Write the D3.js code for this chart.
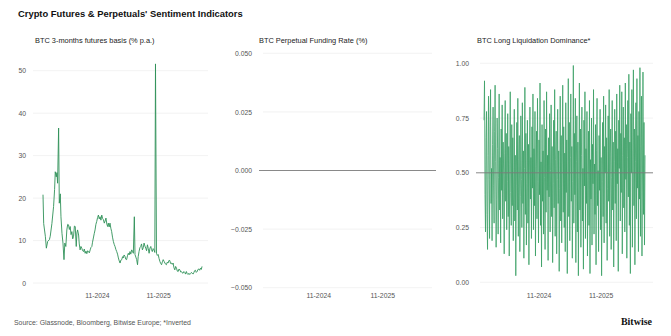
<!DOCTYPE html>
<html>
<head>
<meta charset="utf-8">
<script src="https://cdn.jsdelivr.net/npm/d3@7"></script>
<style>
  body { margin: 0; background: #fff; }
  svg { display: block; font-family: "Liberation Sans", Arial, sans-serif; }
  .tick text { fill: #555; }
</style>
</head>
<body>
<svg id="chart" width="671" height="336"></svg>
<script>
// date span shared by all three panels
var startDate = new Date(2023, 11, 16),
  endDate = new Date(2026, 6, 20);
var xTickDates = [new Date(2024, 10, 1), new Date(2025, 10, 1)];

// BTC 3-months futures basis, % p.a.
var basisDates = [
  "2023-12-16", "2023-12-20", "2023-12-30", "2024-01-05", "2024-01-13", "2024-01-23", "2024-01-28",
  "2024-02-07", "2024-02-17", "2024-02-23", "2024-02-27", "2024-03-04", "2024-03-08", "2024-03-12",
  "2024-03-18", "2024-03-22", "2024-03-28", "2024-04-01", "2024-04-07", "2024-04-13", "2024-04-19",
  "2024-04-24", "2024-04-30", "2024-05-06", "2024-05-11", "2024-05-16", "2024-05-21", "2024-05-26",
  "2024-05-31", "2024-06-05", "2024-06-10", "2024-06-15", "2024-06-20", "2024-06-25", "2024-07-01",
  "2024-07-05", "2024-07-09", "2024-07-15", "2024-07-19", "2024-07-24", "2024-07-29", "2024-08-03",
  "2024-08-08", "2024-08-13", "2024-08-18", "2024-08-23", "2024-08-28", "2024-09-02", "2024-09-07",
  "2024-09-12", "2024-09-17", "2024-09-22", "2024-09-27", "2024-10-02", "2024-10-06", "2024-10-11",
  "2024-10-16", "2024-10-21", "2024-10-26", "2024-10-31", "2024-11-05", "2024-11-10", "2024-11-15",
  "2024-11-20", "2024-11-25", "2024-11-30", "2024-12-05", "2024-12-10", "2024-12-15", "2024-12-20",
  "2024-12-25", "2024-12-30", "2025-01-04", "2025-01-08", "2025-01-13", "2025-01-18", "2025-01-23",
  "2025-01-28", "2025-02-02", "2025-02-07", "2025-02-12", "2025-02-17", "2025-02-22", "2025-02-27",
  "2025-03-04", "2025-03-09", "2025-03-14", "2025-03-19", "2025-03-24", "2025-03-29", "2025-04-03",
  "2025-04-07", "2025-04-12", "2025-04-17", "2025-04-22", "2025-04-27", "2025-05-02", "2025-05-07",
  "2025-05-12", "2025-05-17", "2025-05-22", "2025-05-27", "2025-06-01", "2025-06-06", "2025-06-12",
  "2025-06-16", "2025-06-21", "2025-06-26", "2025-07-01", "2025-07-05", "2025-07-10", "2025-07-15",
  "2025-07-20", "2025-07-25", "2025-07-30", "2025-08-04", "2025-08-09", "2025-08-14", "2025-08-19",
  "2025-08-24", "2025-08-29", "2025-09-03", "2025-09-08", "2025-09-13", "2025-09-18", "2025-09-22",
  "2025-09-27", "2025-10-02", "2025-10-07", "2025-10-12", "2025-10-16", "2025-10-22", "2025-10-27",
  "2025-11-01", "2025-11-06", "2025-11-11", "2025-11-16", "2025-11-21", "2025-11-26", "2025-12-01",
  "2025-12-06", "2025-12-11", "2025-12-16", "2025-12-20", "2025-12-25", "2025-12-30", "2026-01-04",
  "2026-01-09", "2026-01-14", "2026-01-19", "2026-01-24", "2026-01-29", "2026-02-03", "2026-02-08",
  "2026-02-13", "2026-02-18", "2026-02-23", "2026-02-28", "2026-03-05", "2026-03-10", "2026-03-15",
  "2026-03-19", "2026-03-24", "2026-03-29", "2026-04-03", "2026-04-08", "2026-04-13", "2026-04-18",
  "2026-04-23", "2026-04-28", "2026-05-03", "2026-05-08", "2026-05-13", "2026-05-18", "2026-05-23",
  "2026-05-28", "2026-06-02", "2026-06-06", "2026-06-11", "2026-06-16", "2026-06-21", "2026-06-26",
  "2026-07-01", "2026-07-06", "2026-07-11", "2026-07-16", "2026-07-20"
];
var basisValues = [
  20.8, 14, 11, 8.2, 9.8, 10.2, 11,
  14, 18, 22, 26.2, 25, 26, 23.5,
  36.5, 18.8, 21, 15.6, 11.7, 9.4, 5.5,
  9.4, 8.6, 12.5, 13.8, 13.7, 12.6, 13.3,
  11.4, 12.1, 10.4, 11, 13.4, 13.3, 8.6,
  11.8, 12.5, 11.3, 9.2, 7.8, 8.6, 8.2,
  7.6, 7.4, 8, 7, 7.5, 6.9, 7.6,
  7.4, 7.1, 7.8, 8.4, 8.6, 9.6, 10.6,
  11.6, 12.5, 13.8, 14.5, 15.4, 16, 15.1,
  15.6, 14.8, 16, 15.2, 14.9, 14.1, 14.6,
  15.3, 13.9, 13.3, 14.1, 13.2, 14.1, 12.9,
  12.1, 10.8, 9.8, 9.1, 8.6, 7.9, 7.4,
  6.8, 5.9, 5.2, 4.7, 5.4, 5.5, 6.2,
  5.9, 6.6, 6.3, 5.6, 5.5, 6.4, 7,
  6.6, 7.4, 6.8, 7.8, 7.5, 7, 15.6,
  6.7, 6.1, 5.5, 4.3, 6.2, 7.4, 8.3,
  8.6, 9.2, 7.8, 8.3, 9.4, 8.7, 8.2,
  7.6, 9, 8.1, 7, 8.2, 8.6, 7.9,
  7.4, 8.1, 7.8, 7.2, 51.6, 7, 6.5,
  6.7, 5.8, 5.1, 4.6, 4.3, 5, 5.5,
  5.1, 4.7, 4.4, 4.3, 4.9, 4.7, 5.3,
  5.3, 4.6, 4.7, 4.4, 4.7, 3.6, 3.1,
  3.9, 3.5, 2.8, 2.7, 3.3, 3.1, 2.6,
  2.7, 2.4, 2.3, 2.7, 2.5, 2.1, 2.7,
  2.2, 2, 2.3, 2, 2.2, 2.5, 2.3,
  2.1, 2.5, 2.9, 3, 2.5, 2.7, 3.2,
  3.3, 3, 3.5, 3.2, 3.9
];
var basisTicks = [0, 10, 20, 30, 40, 50];

// BTC perpetual funding rate, %
var fundingTicks = [-0.05, -0.025, 0, 0.025, 0.05];

// BTC long liquidation dominance (inverted), evenly spaced over the span
var liqValues = [
  0.74, 0.92, 0.40, 0.23, 0.66, 0.78, 0.31, 0.15, 0.58, 0.85, 0.47, 0.20, 0.71, 0.88, 0.36, 0.52, 0.19, 0.63, 0.80, 0.44,
  0.27, 0.69, 0.90, 0.55, 0.16, 0.38, 0.75, 0.61, 0.22, 0.48, 0.86, 0.33, 0.57, 0.18, 0.70, 0.42, 0.81, 0.29, 0.64, 0.50,
  0.13, 0.59, 0.83, 0.37, 0.68, 0.24, 0.46, 0.77, 0.30, 0.62, 0.12, 0.54, 0.87, 0.41, 0.26, 0.72, 0.35, 0.66, 0.19, 0.49,
  0.79, 0.28, 0.58, 0.03, 0.44, 0.73, 0.33, 0.84, 0.21, 0.56, 0.67, 0.14, 0.39, 0.76, 0.47, 0.25, 0.82, 0.36, 0.60, 0.11,
  0.52, 0.89, 0.31, 0.68, 0.17, 0.45, 0.74, 0.27, 0.63, 0.08, 0.50, 0.80, 0.38, 0.57, 0.20, 0.71, 0.43, 0.86, 0.24, 0.61,
  0.35, 0.78, 0.12, 0.53, 0.69, 0.29, 0.84, 0.46, 0.18, 0.65, 0.40, 0.91, 0.26, 0.55, 0.07, 0.72, 0.37, 0.60, 0.22, 0.83,
  0.48, 0.15, 0.70, 0.32, 0.87, 0.42, 0.58, 0.10, 0.66, 0.39, 0.77, 0.23, 0.51, 0.81, 0.30, 0.62, 0.09, 0.45, 0.74, 0.34,
  0.88, 0.21, 0.56, 0.69, 0.13, 0.47, 0.79, 0.36, 0.60, 0.05, 0.43, 0.85, 0.28, 0.67, 0.18, 0.54, 0.90, 0.32, 0.71, 0.25,
  0.59, 0.14, 0.82, 0.41, 0.65, 0.04, 0.50, 0.93, 0.30, 0.73, 0.19, 0.57, 0.86, 0.37, 0.62, 0.11, 0.46, 0.99, 0.27, 0.68,
  0.40, 0.84, 0.09, 0.55, 0.76, 0.23, 0.64, 0.03, 0.48, 0.91, 0.33, 0.70, 0.16, 0.58, 0.80, 0.28, 0.52, 0.06, 0.74, 0.44,
  0.87, 0.20, 0.61, 0.36, 0.78, 0.12, 0.49, 0.69, 0.26, 0.83, 0.04, 0.56, 0.38, 0.75, 0.17, 0.63, 0.45, 0.88, 0.22, 0.54,
  0.31, 0.72, 0.08, 0.60, 0.84, 0.35, 0.51, 0.14, 0.67, 0.42, 0.79, 0.24, 0.57, 0.03, 0.46, 0.73, 0.30, 0.85, 0.18, 0.62,
  0.50, 0.81, 0.27, 0.66, 0.10, 0.43, 0.76, 0.37, 0.88, 0.21, 0.59, 0.70, 0.15, 0.48, 0.83, 0.33, 0.64, 0.07, 0.55, 0.79,
  0.36, 0.69, 0.19, 0.86, 0.45, 0.61, 0.05, 0.74, 0.52, 0.90, 0.28, 0.68, 0.41, 0.87, 0.13, 0.58, 0.80, 0.34, 0.66, 0.23,
  0.91, 0.47, 0.72, 0.11, 0.57, 0.83, 0.39, 0.95, 0.26, 0.64, 0.04, 0.77, 0.50, 0.88, 0.16, 0.60, 0.97, 0.35, 0.70, 0.08,
  0.55, 0.82, 0.29, 0.93, 0.43, 0.67, 0.14, 0.78, 0.38, 0.98, 0.21, 0.62, 0.85, 0.12, 0.49, 0.96, 0.31, 0.73, 0.17, 0.58
];
var liqTicks = [0, 0.25, 0.5, 0.75, 1];

var parseDate = d3.timeParse("%Y-%m-%d");
var svg = d3.select("#chart");

function basisSeries() {
  return basisValues.map((v, i) => ({ date: parseDate(basisDates[i]), value: v }));
}

// spread values evenly over the date span
function evenSeries(values) {
  var t = d3.scaleLinear().domain([0, values.length - 1]).range([+startDate, +endDate]);
  return values.map((v, i) => ({ date: new Date(t(i)), value: v }));
}

function makePanel(opts) {
  var g = svg.append("g");
  var x = d3.scaleTime().domain([startDate, endDate]).range(opts.xRange);
  var y = d3.scaleLinear().domain(opts.yDomain).range(opts.yRange);

  g.append("text")
    .attr("x", opts.titleX)
    .attr("y", 43)
    .attr("font-size", 7.4)
    .attr("fill", "#222")
    .text(opts.title);

  // gridlines
  g.selectAll(".grid")
    .data(opts.ticks)
    .join("line")
    .attr("class", "grid")
    .attr("x1", opts.gridX[0])
    .attr("x2", opts.gridX[1])
    .attr("y1", (d) => y(d))
    .attr("y2", (d) => y(d))
    .attr("stroke", "#efefef")
    .attr("stroke-width", 0.8);

  // y axis labels
  g.append("g")
    .attr("transform", `translate(${opts.labelX},0)`)
    .call(d3.axisLeft(y).tickValues(opts.ticks).tickFormat(opts.fmt).tickSize(0).tickPadding(0))
    .call((a) => a.select(".domain").remove())
    .selectAll("text")
    .attr("font-size", 6.8)
    .attr("font-family", "Liberation Sans, Arial, sans-serif");

  // x axis labels
  g.append("g")
    .attr("transform", "translate(0,293)")
    .call(d3.axisBottom(x).tickValues(xTickDates).tickFormat(d3.timeFormat("%m-%Y")).tickSize(0).tickPadding(0))
    .call((a) => a.select(".domain").remove())
    .selectAll("text")
    .attr("font-size", 6.8)
    .attr("font-family", "Liberation Sans, Arial, sans-serif");

  if (opts.series) {
    var line = d3.line().x((d) => x(d.date)).y((d) => y(d.value));
    g.append("path")
      .datum(opts.series)
      .attr("fill", "none")
      .attr("stroke", opts.color)
      .attr("stroke-width", opts.width)
      .attr("stroke-linejoin", "round")
      .attr("d", line);
  }

  if (opts.refValue !== undefined) {
    g.append("line")
      .attr("x1", opts.refX[0])
      .attr("x2", opts.refX[1])
      .attr("y1", y(opts.refValue))
      .attr("y2", y(opts.refValue))
      .attr("stroke", "#7d7d7d")
      .attr("stroke-width", 0.9);
  }
  return g;
}

// header
svg.append("text")
  .attr("x", 18)
  .attr("y", 17)
  .attr("font-size", 9.4)
  .attr("font-weight", "bold")
  .attr("fill", "#111")
  .text("Crypto Futures & Perpetuals' Sentiment Indicators");

makePanel({
  title: "BTC 3-months futures basis (% p.a.)",
  titleX: 35,
  xRange: [43, 202],
  yDomain: [0, 50],
  yRange: [283, 70.7],
  gridX: [33, 208],
  labelX: 26,
  ticks: basisTicks,
  fmt: d3.format("d"),
  series: basisSeries(),
  color: "#2f9158",
  width: 0.9,
});

makePanel({
  title: "BTC Perpetual Funding Rate (%)",
  titleX: 259,
  xRange: [262, 428],
  yDomain: [-0.05, 0.05],
  yRange: [287.7, 53.3],
  gridX: [263, 432],
  labelX: 252,
  ticks: fundingTicks,
  fmt: d3.format(".3f"),
  refValue: 0,
  refX: [259, 436],
});

makePanel({
  title: "BTC Long Liquidation Dominance*",
  titleX: 477,
  xRange: [484, 645],
  yDomain: [0, 1],
  yRange: [282.3, 63.3],
  gridX: [480, 653],
  labelX: 469,
  ticks: liqTicks,
  fmt: d3.format(".2f"),
  series: evenSeries(liqValues),
  color: "#3a9f64",
  width: 0.8,
  refValue: 0.5,
  refX: [476, 653],
});

// footer
svg.append("text")
  .attr("x", 14)
  .attr("y", 325)
  .attr("font-size", 6.9)
  .attr("fill", "#555")
  .text("Source: Glassnode, Bloomberg, Bitwise Europe; *Inverted");

svg.append("text")
  .attr("x", 652)
  .attr("y", 325)
  .attr("text-anchor", "end")
  .attr("font-family", "Liberation Serif, DejaVu Serif, serif")
  .attr("font-weight", "bold")
  .attr("font-size", 10)
  .attr("fill", "#111")
  .text("Bitwise");
</script>
</body>
</html>
